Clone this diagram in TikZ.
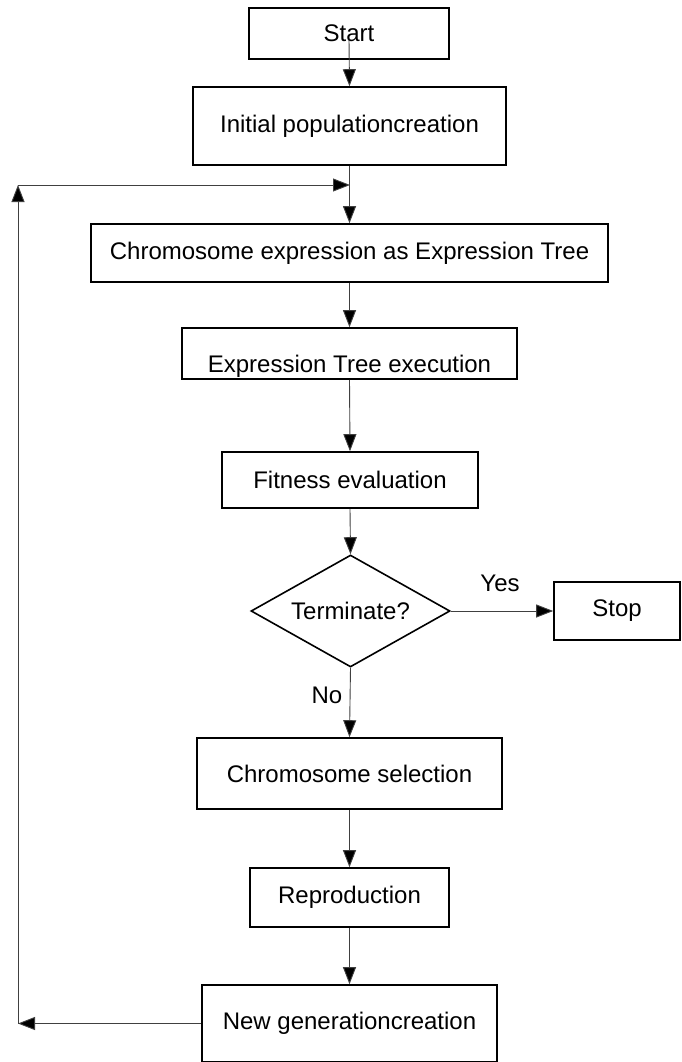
\documentclass[tikz,border=0pt]{standalone}
\usepackage{fontspec}
\setmainfont{Liberation Sans}
\usetikzlibrary{shapes.geometric,arrows.meta}

\begin{document}
\begin{tikzpicture}[x=1pt,y=-1pt,
  every node/.style={font=\fontsize{24}{28}\selectfont},
  stepbox/.style={draw,line width=1.6pt,inner sep=0pt},
  decide/.style={draw,diamond,line width=1.6pt,inner sep=0pt,aspect=1.78,
    minimum width=199pt,minimum height=112pt},
  arr/.style={draw=black!75,line width=0.9pt,
    -{Triangle[length=17pt,width=13pt,fill=black]}}]

\useasboundingbox (0,0) rectangle (681,1062);

% \draw boxes
\node[stepbox,minimum width=200pt,minimum height=51pt] (start) at (349,33.5) {Start};
\node[stepbox,minimum width=313pt,minimum height=78pt] (init) at (349.5,126) {Initial populationcreation};
\node[stepbox,minimum width=517pt,minimum height=58pt] (chrom) at (349.5,253) {Chromosome expression as Expression Tree};
\node[stepbox,minimum width=335pt,text height=44pt,text depth=7pt] (exec) at (349.5,353.5) {Expression Tree execution};
\node[stepbox,minimum width=256pt,minimum height=56pt] (fit) at (350,480) {Fitness evaluation};
\node[decide] (term) at (350.5,611) {Terminate?};
\node[stepbox,minimum width=126pt,minimum height=58pt] (stop) at (617,611) {Stop};
\node[stepbox,minimum width=305pt,minimum height=71pt] (sel) at (349.5,773.5) {Chromosome selection};
\node[stepbox,minimum width=199pt,minimum height=59pt] (repr) at (349.5,897.5) {Reproduction};
\node[stepbox,minimum width=295pt,minimum height=77pt] (newgen) at (349.5,1023.5) {New generationcreation};

% \draw loop corners
\coordinate (lb) at (18,1023.5);
\coordinate (lt) at (18,185);
\coordinate (mrg) at (350,185);

% \draw arrows
\draw[arr] ([yshift=-6pt]start.center) -- (init.north);
\draw[arr] (init.south) -- (chrom.north);
\draw[arr] (chrom.south) -- (exec.north);
\draw[arr] (exec.south) -- (fit.north);
\draw[arr] (fit.south) -- (term.north);
\draw[arr] (term.east) -- (stop.west);
\draw[arr] (term.south) -- (sel.north);
\draw[arr] (sel.south) -- (repr.north);
\draw[arr] (repr.south) -- (newgen.north);
\draw[arr] (newgen.west) -- (lb);
\draw[arr] (lb) -- (lt);
\draw[arr] (lt) -- (mrg);

% \draw labels
\node (yes) at (500,583) {Yes};
\node (no) at (327,695) {No};

\end{tikzpicture}
\end{document}
